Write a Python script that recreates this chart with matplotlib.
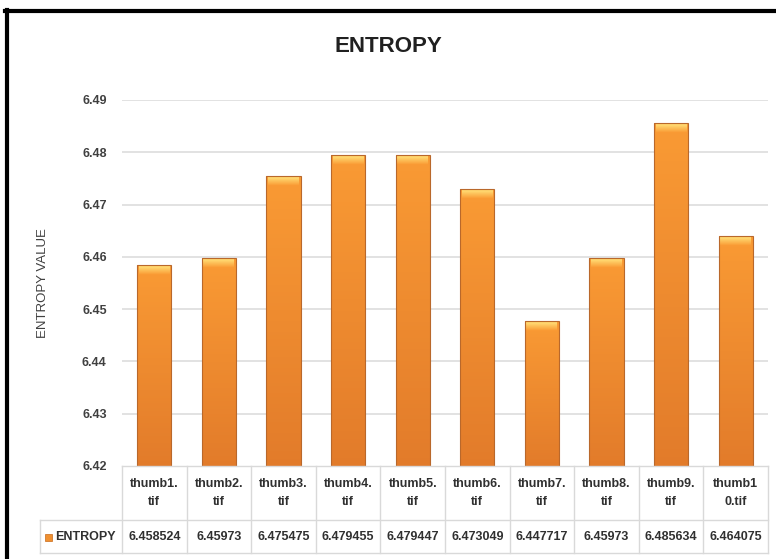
"""
Entropy bar chart with data table underneath (Excel style)
"""

import numpy as np
import matplotlib.pyplot as plt
from matplotlib.colors import to_rgb
from matplotlib.lines import Line2D
from matplotlib.patches import Rectangle

plt.rcParams['font.family'] = ['Liberation Sans', 'DejaVu Sans']

categories = ['thumb1.\ntif', 'thumb2.\ntif', 'thumb3.\ntif', 'thumb4.\ntif', 'thumb5.\ntif',
              'thumb6.\ntif', 'thumb7.\ntif', 'thumb8.\ntif', 'thumb9.\ntif', 'thumb1\n0.tif']
entropy = [6.458524, 6.45973, 6.475475, 6.479455, 6.479447,
           6.473049, 6.447717, 6.45973, 6.485634, 6.464075]
value_labels = ['6.458524', '6.45973', '6.475475', '6.479455', '6.479447',
                '6.473049', '6.447717', '6.45973', '6.485634', '6.464075']
yticks = [6.42, 6.43, 6.44, 6.45, 6.46, 6.47, 6.48, 6.49]

W, H = 776, 559
fig = plt.figure(figsize=(W / 100, H / 100), dpi=100)


def fx(px):
    return px / W


def fy(py):
    return 1 - py / H


# plot area in pixel coords
x0, x1 = 122, 768
y_top, y_bot = 100, 466
ax = fig.add_axes([fx(x0), fy(y_bot), fx(x1) - fx(x0), fy(y_top) - fy(y_bot)])

n = len(categories)
ymin, ymax = 6.42, 6.49
xpos = np.arange(n)
vals = np.array(entropy)
width = 0.53

# vertical shading: darker at the bottom, lighter near the top (stacked slices)
top_c = np.array(to_rgb('#F99A34'))
bot_c = np.array(to_rgb('#E27B2A'))
n_slices = 80
h = vals - ymin
for k in range(n_slices):
    f = k / (n_slices - 1)
    ax.bar(xpos, h * (n_slices - k) / n_slices, bottom=ymin + h * k / n_slices, width=width,
           color=bot_c * (1 - f) + top_c * f, linewidth=0, antialiased=False, zorder=2)

# bevel at the top of each bar: yellow blending into the body colour
px = (ymax - ymin) / (y_bot - y_top)
cap_c = np.array(to_rgb('#FFD46C'))
n_cap = 10
for j in range(n_cap - 1, -1, -1):
    f = min(1.0, max(0.0, (j - 2) / (n_cap - 3)))
    ax.bar(xpos, px * (j + 1), bottom=vals - px * (j + 1), width=width * 0.9,
           color=cap_c * (1 - f) + top_c * f, linewidth=0, antialiased=False, zorder=3)

# outline
ax.bar(xpos, h, bottom=ymin, width=width, facecolor='none',
       edgecolor='#B9682B', linewidth=0.8, zorder=4)

ax.set_xlim(-0.5, n - 0.5)
ax.set_ylim(ymin, ymax)
ax.set_yticks(yticks)
ax.set_yticklabels([f'{t:.2f}' for t in yticks], fontsize=9, fontweight='bold', color='#404040')
ax.tick_params(axis='y', length=0, pad=11)
ax.set_xticks([])
for s in ax.spines.values():
    s.set_visible(False)
for t in yticks[1:]:
    ax.axhline(t, color='#DDDDDD', lw=1.2, zorder=0)
ax.set_ylabel('ENTROPY VALUE', fontsize=9.5, color='#404040', labelpad=24)

# title
fig.text(fx(388), fy(46), 'ENTROPY', ha='center', va='center', fontsize=16,
         fontweight='bold', color='#202020')

# data table
grid_col = '#D9D9D9'
col_w = (x1 - x0) / n
row1_top, row2_top, row2_bot = 466, 520, 553
key_left = 40


def hline(xa, xb, y):
    fig.add_artist(Line2D([fx(xa), fx(xb)], [fy(y), fy(y)], color=grid_col, lw=1))


def vline(x, ya, yb):
    fig.add_artist(Line2D([fx(x), fx(x)], [fy(ya), fy(yb)], color=grid_col, lw=1))


hline(x0, x1, row1_top)
hline(key_left, x1, row2_top)
hline(key_left, x1, row2_bot)
for k in range(n + 1):
    vline(x0 + k * col_w, row1_top, row2_bot)
vline(key_left, row2_top, row2_bot)

for i in range(n):
    cx = x0 + (i + 0.5) * col_w
    fig.text(fx(cx), fy((row1_top + row2_top) / 2), categories[i], ha='center', va='center',
             fontsize=9, fontweight='bold', color='#303030', linespacing=1.6)
    fig.text(fx(cx), fy((row2_top + row2_bot) / 2), value_labels[i], ha='center', va='center',
             fontsize=9, fontweight='bold', color='#303030')

# legend key in table
fig.add_artist(Rectangle((fx(45), fy(541)), fx(7), 7 / H, facecolor='#F09030',
                         edgecolor='#C96A1A', lw=0.5, transform=fig.transFigure))
fig.text(fx(55), fy((row2_top + row2_bot) / 2), 'ENTROPY', ha='left', va='center',
         fontsize=9, fontweight='bold', color='#303030')

# outer black frame (left and top edges visible)
fig.add_artist(Line2D([fx(7), fx(7)], [fy(10), fy(559)], color='black', lw=3))
fig.add_artist(Line2D([fx(5), fx(776)], [fy(10.5), fy(10.5)], color='black', lw=3))

fig.savefig('out.png', dpi=100)
